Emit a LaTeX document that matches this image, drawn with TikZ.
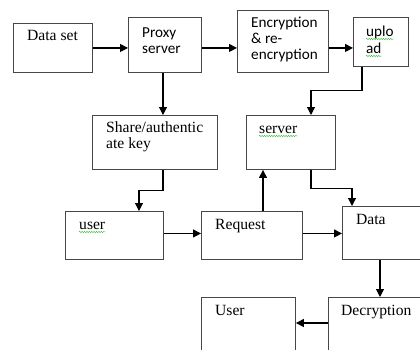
\documentclass[tikz,border=0pt]{standalone}
\usepackage{fontspec}
\setmainfont{Liberation Serif}
\newfontfamily\sansf{Carlito}
\usetikzlibrary{arrows.meta,decorations.pathmorphing}
\begin{document}
\begin{tikzpicture}[x=1pt,y=-1pt,
  box/.style={draw=black!72,line width=0.9pt,rectangle,inner sep=0pt,anchor=north west},
  lbl/.style={anchor=base west,inner sep=0pt,font=\fontsize{15.6}{16}\selectfont},
  slbl/.style={anchor=base west,inner sep=0pt,font=\sansf\fontsize{15.2}{16}\selectfont},
  arr/.style={line width=1.1pt,-{Triangle[length=8pt,width=8pt]}},
  wavy/.style={draw=green!65!black!80,line width=0.35pt,decorate,decoration={snake,amplitude=0.8pt,segment length=2.4pt}}]
\useasboundingbox (0,0) rectangle (420,349);
\clip (0,0) rectangle (420,349);
% boxes
\node[box,minimum width=79pt,minimum height=49pt] (ds) at (13,23) {};
\node[box,minimum width=73pt,minimum height=55pt] (px) at (128,17) {};
\node[box,minimum width=91pt,minimum height=62pt] (enc) at (237,10) {};
\node[box,minimum width=55pt,minimum height=49pt] (up) at (353,17) {};
\node[box,minimum width=125pt,minimum height=54pt] (sh) at (92,115) {};
\node[box,minimum width=89pt,minimum height=54pt] (sv) at (246,115) {};
\node[box,minimum width=98pt,minimum height=48pt] (us) at (65,211) {};
\node[box,minimum width=101pt,minimum height=48pt] (rq) at (201,211) {};
\node[box,minimum width=90pt,minimum height=53pt] (dt) at (342,206) {};
\node[box,minimum width=100pt,minimum height=70pt] (dc) at (328,297) {};
\node[box,minimum width=94pt,minimum height=70pt] (ur) at (201,297) {};
% texts
\node[lbl] (tds) at (27,40) {Data set};
\node[slbl] (tpx1) at (142,37) {Proxy};
\node[slbl] (tpx2) at (142,53) {server};
\node[slbl] (tenc1) at (251,27) {Encryption};
\node[slbl] (tenc2) at (251,43) {\& re-};
\node[slbl] (tenc3) at (251,59) {encryption};
\node[slbl] (tup1) at (366,36) {uplo};
\node[slbl] (tup2) at (366,53) {ad};
\node[lbl] (tsh1) at (106,132) {Share/authentic};
\node[lbl] (tsh2) at (106,148) {ate key};
\node[lbl] (tsv) at (259,133) {server};
\node[lbl] (tus) at (79,229) {user};
\node[lbl] (trq) at (215,229) {Request};
\node[lbl] (tdt) at (356,224) {Data};
\node[lbl] (tdc) at (341,315) {Decryption};
\node[lbl] (tur) at (215,315) {User};
% spell-check underlines
\draw[wavy] ([yshift=-3pt]tup1.base west) -- ([yshift=-3pt]tup1.base east);
\draw[wavy] ([yshift=-3pt]tup2.base west) -- ([yshift=-3pt]tup2.base east);
\draw[wavy] ([yshift=-3pt]tsv.base west) -- ([yshift=-3pt]tsv.base east);
\draw[wavy] ([yshift=-3pt]tus.base west) -- ([yshift=-3pt]tus.base east);
% connectors
\draw[arr] (ds.east) -- (ds.east -| px.west);
\draw[arr] (px.east |- ds.east) -- (enc.west |- ds.east);
\draw[arr] (enc.east |- ds.east) -- (up.west |- ds.east);
\draw[arr] ([xshift=35pt]px.south west) -- ([xshift=71pt]sh.north west);
\draw[arr] ([xshift=9pt]up.south west) -- ++(0,24) -| ([xshift=65pt]sv.north west);
\draw[arr] ([xshift=71pt]sh.south west) -- ++(0,21) -| ([xshift=74pt]us.north west);
\draw[arr] ([xshift=65pt]sv.south west) -- ++(0,19) -| ([xshift=10pt]dt.north west);
\draw[arr] ([xshift=62pt]rq.north west) -- ([xshift=17pt]sv.south west);
\draw[arr] ([yshift=2pt]us.east) -- ([yshift=2pt]us.east -| rq.west);
\draw[arr] ([yshift=2pt]rq.east) -- ([yshift=2pt]rq.east -| dt.west);
\draw[arr] ([xshift=38pt]dt.south west) -- ([xshift=52pt]dc.north west);
\draw[arr] ([yshift=-26pt]dc.north west) -- ([yshift=-26pt]ur.north east);
\end{tikzpicture}
\end{document}
